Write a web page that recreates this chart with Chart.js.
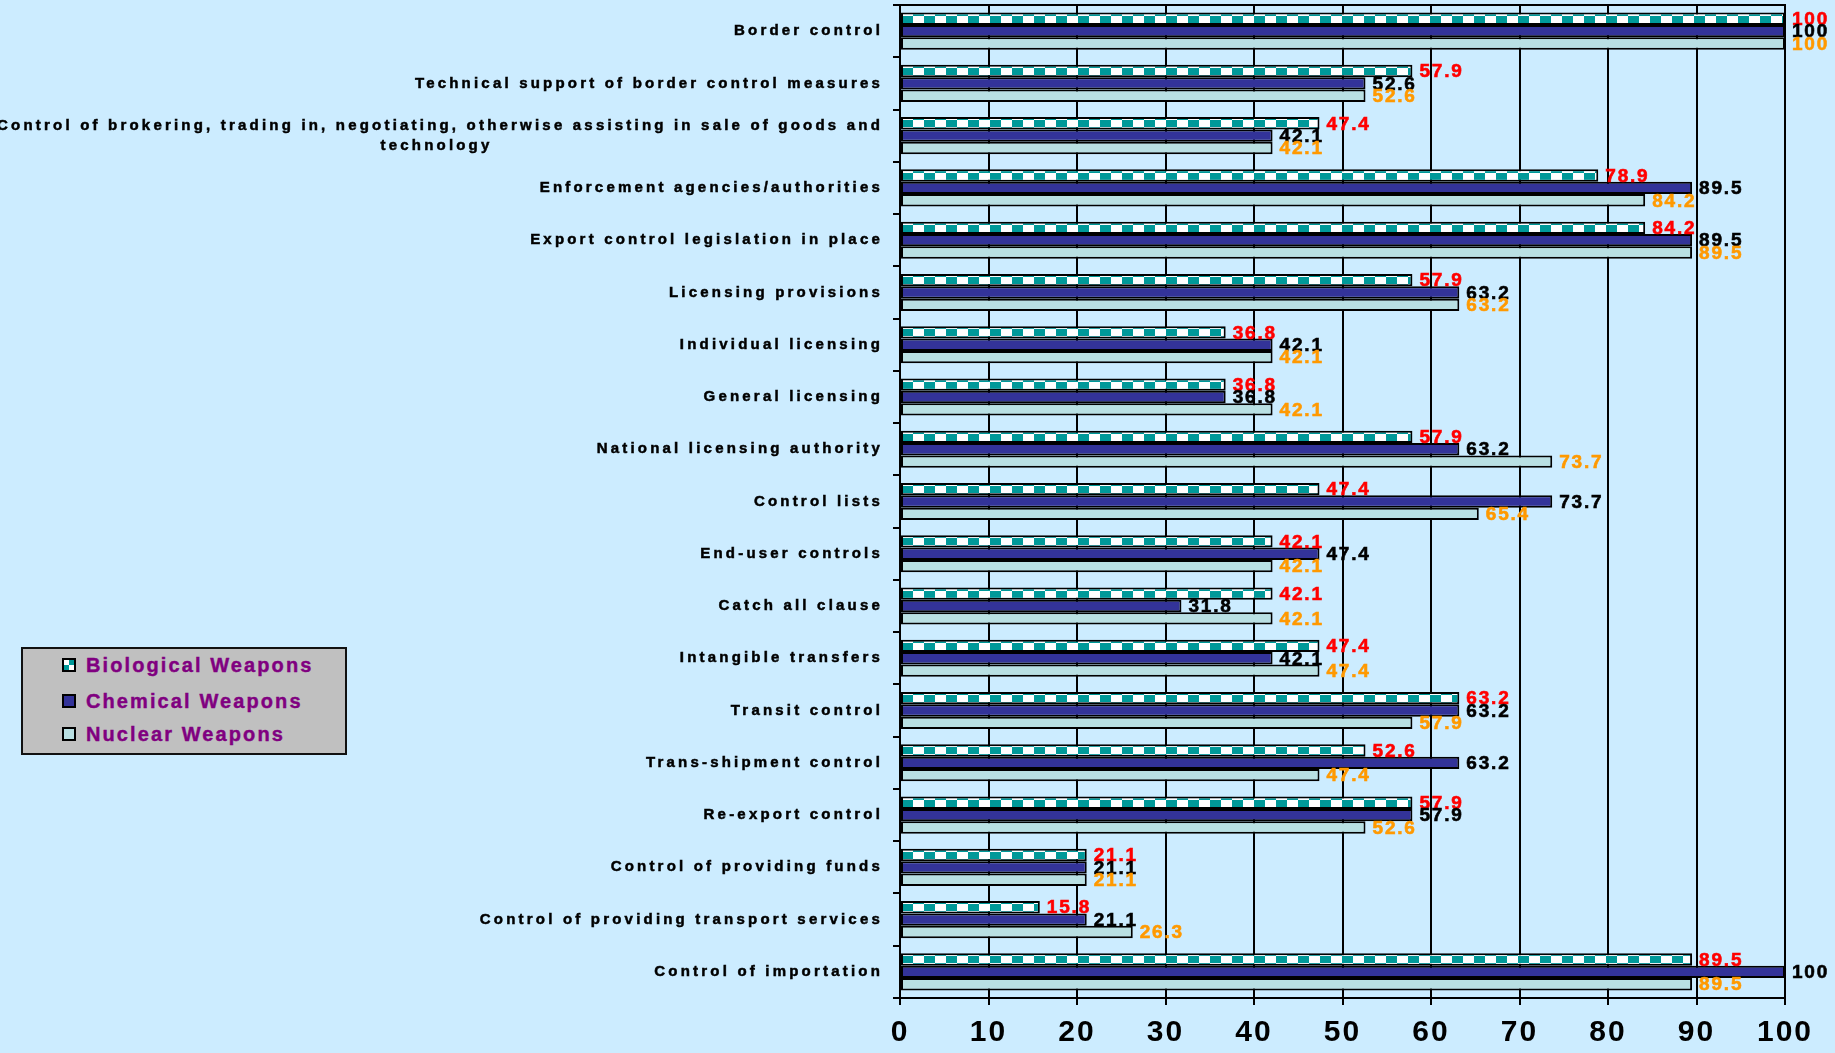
<!DOCTYPE html>
<html><head><meta charset="utf-8">
<script src="https://cdn.jsdelivr.net/npm/chart.js@4"></script>
<style>
html,body{margin:0;padding:0;background:#CCECFF;}
#wrap{position:relative;width:1835px;height:1053px;overflow:hidden;}
canvas{display:block;}
#legend{position:absolute;left:21px;top:647px;width:322px;height:104px;background:#C0C0C0;border:2px solid #111;
 font:bold 20px "Liberation Sans",Arial,sans-serif;color:#800080;letter-spacing:2.1px;-webkit-text-stroke:0.4px #800080;}
.item{position:absolute;left:39px;height:24px;white-space:nowrap;}
.sw{position:absolute;left:0;top:5px;width:10px;height:10px;border:2px solid #000;}
.t{position:absolute;left:24px;top:0;line-height:24px;}
</style></head>
<body>
<div id="wrap">
<canvas id="c" width="1835" height="1053"></canvas>
<div id="legend">
 <div class="item" style="top:4px"><div class="sw" style="background:conic-gradient(#009999 0 25%,#fff 0 50%,#009999 0 75%,#fff 0)"></div><span class="t">Biological Weapons</span></div>
 <div class="item" style="top:40px"><div class="sw" style="background:#333399"></div><span class="t">Chemical Weapons</span></div>
 <div class="item" style="top:73px"><div class="sw" style="background:#B9E0E3"></div><span class="t">Nuclear Weapons</span></div>
</div>
</div>
<script>
const categories = [
  "Border control",
  "Technical support of border control measures",
  ["Control of brokering, trading in, negotiating, otherwise assisting in sale of goods and", "technology"],
  "Enforcement agencies/authorities",
  "Export control legislation in place",
  "Licensing provisions",
  "Individual licensing",
  "General licensing",
  "National licensing authority",
  "Control lists",
  "End-user controls",
  "Catch all clause",
  "Intangible transfers",
  "Transit control",
  "Trans-shipment control",
  "Re-export control",
  "Control of providing funds",
  "Control of providing transport services",
  "Control of importation"
];
const biological = [100, 57.9, 47.4, 78.9, 84.2, 57.9, 36.8, 36.8, 57.9, 47.4, 42.1, 42.1, 47.4, 63.2, 52.6, 57.9, 21.1, 15.8, 89.5];
const chemical   = [100, 52.6, 42.1, 89.5, 89.5, 63.2, 42.1, 36.8, 63.2, 73.7, 47.4, 31.8, 42.1, 63.2, 63.2, 57.9, 21.1, 21.1, 100];
const nuclear    = [100, 52.6, 42.1, 84.2, 89.5, 63.2, 42.1, 42.1, 73.7, 65.4, 42.1, 42.1, 47.4, 57.9, 47.4, 52.6, 21.1, 26.3, 89.5];
const seriesNames = ["Biological Weapons", "Chemical Weapons", "Nuclear Weapons"];
const xTicks = [0, 10, 20, 30, 40, 50, 60, 70, 80, 90, 100];

const labelColors = ['#FF0000', '#000000', '#FF9900'];
const FONT = '"Liberation Sans", Arial, sans-serif';
const Y_LS = '3.2px';

const mctx = document.createElement('canvas').getContext('2d');
mctx.font = 'bold 15px ' + FONT;
mctx.letterSpacing = Y_LS;
function centerLines(lines){
  const w = lines.map(l => mctx.measureText(l).width);
  const maxW = Math.max(...w);
  const sp = mctx.measureText(' ').width;
  return lines.map((l, i) => l + ' '.repeat(Math.max(0, Math.round((maxW - w[i]) / 2 / sp))));
}

const tile = document.createElement('canvas');
tile.width = 22; tile.height = 14;
const tc = tile.getContext('2d');
tc.fillStyle = '#ffffff'; tc.fillRect(0, 0, 22, 14);
tc.fillStyle = '#009999'; tc.fillRect(11, 0, 11, 7); tc.fillRect(0, 7, 11, 7);

const bioPattern = {
  id: 'bioPattern',
  beforeDatasetsDraw(chart){
    const meta = chart.getDatasetMeta(0);
    meta.data.forEach(el => {
      const p = chart.ctx.createPattern(tile, 'repeat');
      p.setTransform(new DOMMatrix([1, 0, 0, 1, chart.chartArea.left + 2, Math.round(el.y) - 3 - 7]));
      el.options = Object.assign({}, el.options, {backgroundColor: p});
    });
  }
};

const spacing = {
  id: 'spacing',
  afterLayout(chart){
    [['y', Y_LS], ['x', '2px']].forEach(([id, ls]) => {
      const s = chart.scales[id];
      if (s && !s.__patched){
        const orig = s.drawLabels;
        s.drawLabels = function(a){ this.ctx.save(); this.ctx.letterSpacing = ls; orig.call(this, a); this.ctx.restore(); };
        s.__patched = true;
      }
    });
  }
};

const valueLabels = {
  id: 'valueLabels',
  afterDatasetsDraw(chart){
    const ctx = chart.ctx;
    ctx.save();
    ctx.font = 'bold 19px ' + FONT;
    ctx.letterSpacing = '1.8px';
    ctx.textAlign = 'left';
    ctx.textBaseline = 'middle';
    ctx.lineWidth = 0.6;
    chart.data.datasets.forEach((ds, i) => {
      chart.getDatasetMeta(i).data.forEach((el, j) => {
        ctx.fillStyle = labelColors[i];
        ctx.strokeStyle = labelColors[i];
        const t = String(ds.data[j]);
        ctx.strokeText(t, el.x + 7, el.y + 1);
        ctx.fillText(t, el.x + 7, el.y + 1);
      });
    });
    ctx.restore();
  }
};

new Chart(document.getElementById('c'), {
  type: 'bar',
  data: {
    labels: categories,
    datasets: [
      {label: seriesNames[0], data: biological, backgroundColor: '#009999', borderColor: '#000', borderWidth: 2, borderSkipped: false, xAxisID: 'x'},
      {label: seriesNames[1], data: chemical, backgroundColor: '#333399', borderColor: '#000', borderWidth: 2, borderSkipped: false, xAxisID: 'x'},
      {label: seriesNames[2], data: nuclear, backgroundColor: '#B9E0E3', borderColor: '#000', borderWidth: 2, borderSkipped: false, xAxisID: 'x'}
    ]
  },
  options: {
    indexAxis: 'y',
    responsive: false,
    animation: false,
    events: [],
    categoryPercentage: 0.71,
    barPercentage: 1.0,
    layout: {padding: {top: 5, right: 50, left: 0, bottom: 0}},
    plugins: {legend: {display: false}, tooltip: {enabled: false}},
    scales: {
      y: {
        offset: true,
        grid: {display: true, drawOnChartArea: false, drawTicks: true, tickLength: 7, color: '#000', lineWidth: 2, offset: true},
        border: {display: true, color: '#000', width: 2},
        ticks: {color: '#000', autoSkip: false, padding: 10, textStrokeColor: '#000', textStrokeWidth: 0.5,
          font: {family: FONT, size: 15, weight: 'bold', lineHeight: 1.33},
          callback: function(v, i){ const l = categories[i]; return Array.isArray(l) ? centerLines(l) : l; }},
        afterFit(s){ s.width = 900; s.paddingTop = 0; s.paddingBottom = 0; }
      },
      x: {
        type: 'linear', position: 'bottom', min: 0, max: 100,
        grid: {color: '#000', lineWidth: 2, drawTicks: true, tickLength: 7},
        border: {display: true, color: '#000', width: 2},
        afterBuildTicks(s){ s.ticks = xTicks.map(v => ({value: v})); },
        ticks: {color: '#000', padding: 10, font: {family: FONT, size: 30, weight: 'bold'},
          callback: v => String(v)},
        afterFit(s){ s.height = 55; }
      },
      x2: {
        type: 'linear', position: 'top', min: 0, max: 100,
        grid: {display: false, drawTicks: false},
        ticks: {display: false},
        border: {display: true, color: '#000', width: 2},
        afterFit(s){ s.height = 0; s.paddingLeft = 0; s.paddingRight = 0; }
      }
    }
  },
  plugins: [spacing, bioPattern, valueLabels]
});
</script>
</body></html>
